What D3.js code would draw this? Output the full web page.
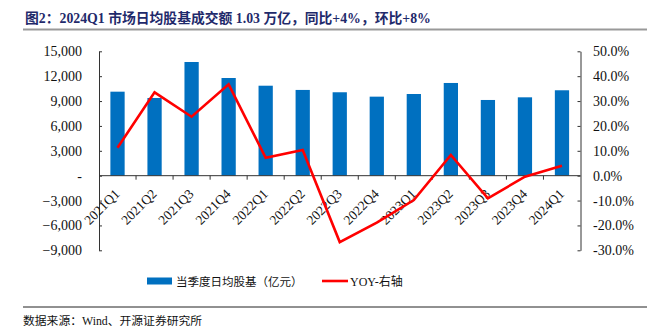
<!DOCTYPE html>
<html><head><meta charset="utf-8">
<script src="https://cdn.jsdelivr.net/npm/d3@7/dist/d3.min.js"></script>
<style>
body{margin:0;background:#fff;}
svg{display:block;}
text{font-family:"Liberation Serif","Times New Roman","Noto Sans CJK SC",serif;}
</style></head>
<body>
<script>
const categories = ["2021Q1","2021Q2","2021Q3","2021Q4","2022Q1","2022Q2","2022Q3","2022Q4","2023Q1","2023Q2","2023Q3","2023Q4","2024Q1"];
const turnover = [10130, 9370, 13710, 11780, 10850, 10340, 10060, 9530, 9850, 11180, 9130, 9450, 10300];
const yoy = [11.2, 33.5, 23.7, 36.7, 7.2, 10.3, -26.7, -18.9, -9.8, 8.3, -9.1, -0.4, 4.0];
const leftTicks = [-9000, -6000, -3000, 0, 3000, 6000, 9000, 12000, 15000];
const rightTicks = [-30, -20, -10, 0, 10, 20, 30, 40, 50];
const titleText = "图2：2024Q1 市场日均股基成交额 1.03 万亿，同比+4%，环比+8%";
const legendBar = "当季度日均股基（亿元）";
const legendLine = "YOY-右轴";
const sourceText = "数据来源：Wind、开源证券研究所";

const W = 647, H = 330;
const svg = d3.select("body").append("svg").attr("width", W).attr("height", H);

const x0 = 99, x1 = 580.5, yTop = 51.3, yBot = 250.3;
const x = d3.scaleBand().domain(categories).range([x0, x1]).paddingInner(0.615).paddingOuter(0.3075);
const xb = d3.scaleBand().domain(categories).range([x0, x1]);
const yL = d3.scaleLinear().domain([-9000, 15000]).range([yBot, yTop]);
const yR = d3.scaleLinear().domain([-30, 50]).range([yBot, yTop]);

// title
svg.append("text").attr("x", 25).attr("y", 23).attr("font-size", 13.8).attr("font-weight", "bold")
  .attr("fill", "#1f2a6b").text(titleText);
svg.append("line").attr("x1", 23).attr("x2", 647).attr("y1", 29.5).attr("y2", 29.5)
  .attr("stroke", "#999").attr("stroke-width", 2);

// bars
svg.append("g").selectAll("rect").data(categories).join("rect")
  .attr("x", d => x(d)).attr("width", x.bandwidth())
  .attr("y", (d, i) => yL(turnover[i])).attr("height", (d, i) => yL(0) - yL(turnover[i]))
  .attr("fill", "#0070c0");

// axes
const fmtL = v => v === 0 ? "-" : d3.format(",")(v);
const gL = svg.append("g").attr("transform", `translate(${x0},0)`)
  .call(d3.axisLeft(yL).tickValues(leftTicks).tickFormat(fmtL).tickSizeInner(-3).tickSizeOuter(0).tickPadding(17));
const gR = svg.append("g").attr("transform", `translate(${x1},0)`)
  .call(d3.axisRight(yR).tickValues(rightTicks).tickFormat(v => v.toFixed(1) + "%").tickSizeInner(-3).tickSizeOuter(0).tickPadding(12.5));
[gL, gR].forEach(g => {
  g.select(".domain").attr("stroke", "#333");
  g.selectAll(".tick line").attr("stroke", "#333");
  g.selectAll("text").attr("font-size", 14).attr("fill", "#111")
    .attr("font-family", "'Liberation Serif','Times New Roman',serif");
});

// x axis at zero
const y0 = yL(0);
const gX = svg.append("g").attr("transform", `translate(0,${y0})`);
gX.append("line").attr("x1", x0).attr("x2", x1).attr("y1", 0).attr("y2", 0).attr("stroke", "#333");
gX.selectAll("line.tk").data(categories.slice(1)).join("line").attr("class", "tk")
  .attr("x1", d => xb(d)).attr("x2", d => xb(d)).attr("y1", 0).attr("y2", 4).attr("stroke", "#333");
gX.selectAll("text").data(categories).join("text")
  .attr("transform", d => `translate(${xb(d) + xb.bandwidth() / 2 + 3},19) rotate(-45)`)
  .attr("text-anchor", "end").attr("font-size", 13.5).attr("fill", "#111")
  .attr("font-family", "'Liberation Serif','Times New Roman',serif")
  .text(d => d);

// line
const line = d3.line().x((d, i) => xb(categories[i]) + xb.bandwidth() / 2).y(d => yR(d));
svg.append("path").datum(yoy).attr("d", line).attr("fill", "none")
  .attr("stroke", "#ff0000").attr("stroke-width", 2.6).attr("stroke-linejoin", "miter");

// legend
const ly = 281;
svg.append("rect").attr("x", 147).attr("y", ly - 3.5).attr("width", 25).attr("height", 7).attr("fill", "#0070c0");
svg.append("text").attr("x", 176).attr("y", ly + 4.5).attr("font-size", 11.5).attr("fill", "#111").text(legendBar);
svg.append("line").attr("x1", 322).attr("x2", 348).attr("y1", ly).attr("y2", ly).attr("stroke", "#ff0000").attr("stroke-width", 2.6);
svg.append("text").attr("x", 350).attr("y", ly + 4.5).attr("font-size", 12).attr("fill", "#111").text(legendLine);

// footer
svg.append("line").attr("x1", 23).attr("x2", 647).attr("y1", 307).attr("y2", 307).attr("stroke", "#222").attr("stroke-width", 1);
svg.append("text").attr("x", 23).attr("y", 325).attr("font-size", 11.8).attr("fill", "#111").text(sourceText);
</script>
</body></html>
